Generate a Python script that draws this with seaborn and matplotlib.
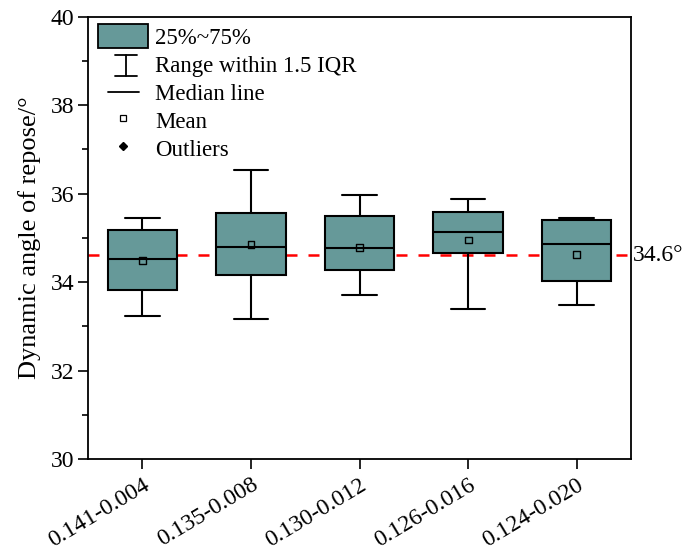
import numpy as np
import pandas as pd
import matplotlib
matplotlib.use("Agg")
import matplotlib.pyplot as plt
import seaborn as sns
from matplotlib.lines import Line2D
from matplotlib.patches import Patch
from matplotlib.legend_handler import HandlerBase
from matplotlib.ticker import MultipleLocator

# ---- data (five-number summaries) ----
categories = ["0.141-0.004", "0.135-0.008", "0.130-0.012", "0.126-0.016", "0.124-0.020"]
whisker_low = [33.24, 33.17, 33.70, 33.39, 33.47]
q1 = [33.82, 34.16, 34.28, 34.65, 34.03]
median = [34.51, 34.80, 34.77, 35.14, 34.87]
q3 = [35.18, 35.57, 35.50, 35.58, 35.41]
whisker_high = [35.45, 36.54, 35.96, 35.87, 35.44]
means = [34.48, 34.84, 34.78, 34.95, 34.63]
ref_value = 34.6
ref_label = "34.6°"
legend_labels = ["25%~75%", "Range within 1.5 IQR", "Median line", "Mean", "Outliers"]
ylabel = "Dynamic angle of repose/°"

rows = []
for c, a, b, m, d, e in zip(categories, whisker_low, q1, median, q3, whisker_high):
    for v in (a, b, m, d, e):
        rows.append({"group": c, "value": v})
df = pd.DataFrame(rows)

sns.set_style("ticks")
plt.rcParams["font.family"] = ["Liberation Serif", "DejaVu Serif"]
for k in ("text.color", "axes.labelcolor", "xtick.color", "ytick.color", "axes.edgecolor"):
    plt.rcParams[k] = "black"

fig = plt.figure(figsize=(6.84, 5.53), dpi=100)
ax = fig.add_axes([0.1287, 0.170, 0.7938, 0.800])

box_color = "#669999"
sns.boxplot(data=df, x="group", y="value", order=categories, whis=(0, 100),
            color=box_color, saturation=1, width=0.64, linewidth=1.5,
            linecolor="black", ax=ax, zorder=3)

sns.scatterplot(x=categories, y=means, marker="s", s=24, facecolor="none",
                edgecolor="black", linewidth=1.0, ax=ax, zorder=5)

ax.axhline(ref_value, color="red", lw=1.8, ls=(0, (4.4, 4.4)), zorder=2)
ax.text(1.003, ref_value, ref_label, transform=ax.get_yaxis_transform(),
        ha="left", va="center", fontsize=17)

ax.set_xlim(-0.5, 4.5)
ax.set_ylim(30, 40)
ax.yaxis.set_major_locator(MultipleLocator(2))
ax.yaxis.set_minor_locator(MultipleLocator(1))
ax.set_xlabel("")
ax.set_ylabel(ylabel, fontsize=19, labelpad=7)
ax.tick_params(axis="y", which="major", direction="out", length=7, width=1.2, labelsize=17, pad=3)
ax.tick_params(axis="y", which="minor", direction="out", length=4, width=1.2)
ax.tick_params(axis="x", which="major", direction="out", length=7, width=1.2, labelsize=17, pad=4)
plt.setp(ax.get_xticklabels(), rotation=31, ha="right", va="top", rotation_mode="anchor")
for s in ax.spines.values():
    s.set_visible(True)
    s.set_linewidth(1.3)
    s.set_color("black")


class IBeamHandler(HandlerBase):
    def create_artists(self, legend, orig_handle, xdescent, ydescent, width, height, fontsize, trans):
        cx = width / 2 - xdescent + 2
        hw = 8
        y0 = -ydescent + 0.0 * height
        y1 = -ydescent + 0.9 * height
        kw = dict(color="black", lw=1.3, transform=trans)
        return [Line2D([cx, cx], [y0, y1], **kw),
                Line2D([cx - hw, cx + hw], [y0, y0], **kw),
                Line2D([cx - hw, cx + hw], [y1, y1], **kw)]


class MedianHandler(HandlerBase):
    def create_artists(self, legend, orig_handle, xdescent, ydescent, width, height, fontsize, trans):
        cy = height / 2 - ydescent
        x0 = -xdescent + 0.2 * width
        x1 = -xdescent + 0.82 * width
        return [Line2D([x0, x1], [cy, cy], color="black", lw=1.3, transform=trans)]


class ibeam: pass
class medline: pass

handles = [
    Patch(facecolor=box_color, edgecolor="black", lw=1.3),
    ibeam(),
    medline(),
    Line2D([], [], ls="none", marker="s", ms=4, mfc="none", mec="black", mew=0.9),
    Line2D([], [], ls="none", marker="D", ms=4.5, mfc="black", mec="black"),
]
ax.legend(handles, legend_labels, loc="upper left", bbox_to_anchor=(0.0184, 0.983),
          frameon=False, fontsize=16.5, handlelength=2.18, handleheight=1.22,
          handletextpad=0.3, labelspacing=0.15, borderaxespad=0, borderpad=0,
          handler_map={ibeam: IBeamHandler(), medline: MedianHandler()})

fig.savefig("out.png", dpi=100)
